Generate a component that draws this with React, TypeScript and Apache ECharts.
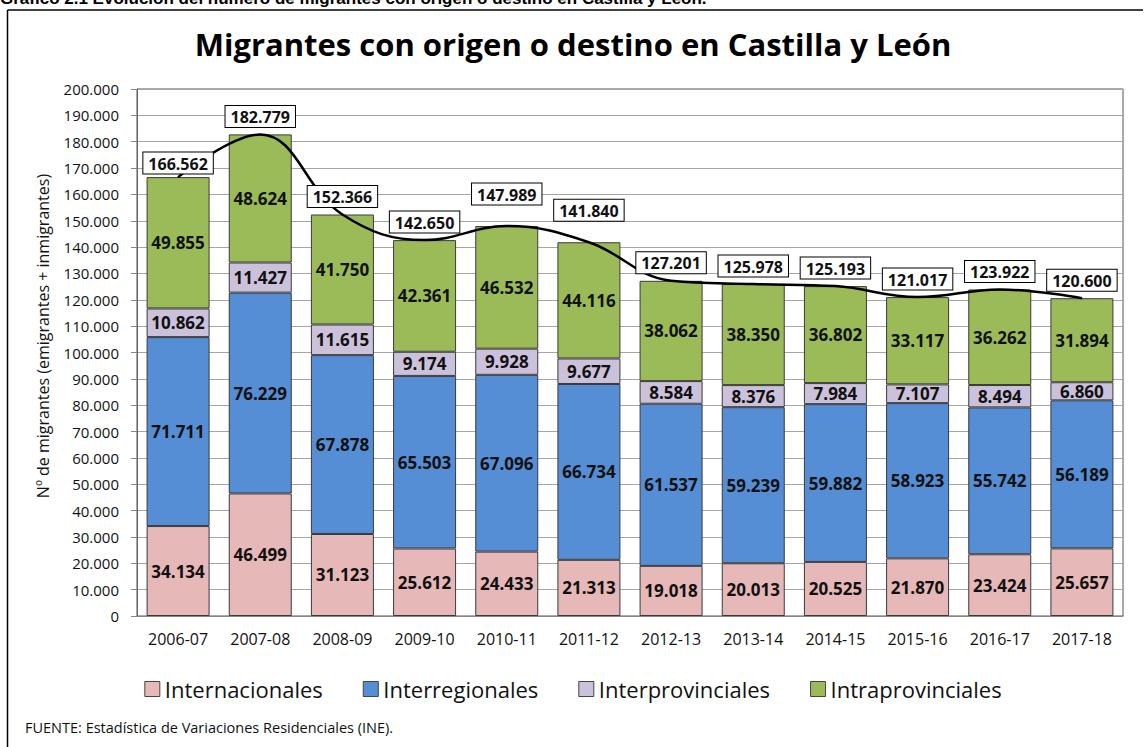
import React, { useEffect, useRef } from "react";
import * as echarts from "echarts";

const categories = ["2006-07","2007-08","2008-09","2009-10","2010-11","2011-12","2012-13","2013-14","2014-15","2015-16","2016-17","2017-18"];
const internacionales = [34134,46499,31123,25612,24433,21313,19018,20013,20525,21870,23424,25657];
const interregionales = [71711,76229,67878,65503,67096,66734,61537,59239,59882,58923,55742,56189];
const interprovinciales = [10862,11427,11615,9174,9928,9677,8584,8376,7984,7107,8494,6860];
const intraprovinciales = [49855,48624,41750,42361,46532,44116,38062,38350,36802,33117,36262,31894];
const totales = [166562,182779,152366,142650,147989,141840,127201,125978,125193,121017,123922,120600];

const seriesNames = ["Internacionales","Interregionales","Interprovinciales","Intraprovinciales"];
const caption = "Gráfico 2.1 Evolución del número de migrantes con origen o destino en Castilla y León.";
const chartTitle = "Migrantes con origen o destino en Castilla y León";
const yAxisTitle = "Nº de migrantes (emigrantes + inmigrantes)";
const source = "FUENTE: Estadística de Variaciones Residenciales (INE).";

const fmt = (v: number) => String(Math.round(v)).replace(/\B(?=(\d{3})+(?!\d))/g, ".");
const FONT = "'Open Sans', sans-serif";

export default function App() {
  const ref = useRef<HTMLDivElement>(null);
  useEffect(() => {
    if (!ref.current) return;
    const chart = echarts.init(ref.current, null, { renderer: "svg" });
    const colors = ["#E6B9B8", "#558ED5", "#CCC1DA", "#9BBB59"];
    const values = [internacionales, interregionales, interprovinciales, intraprovinciales];
    const raisedLabels = new Set(["2010-11", "2011-12"]);
    const lowLabels = new Set(["2006-07"]);
    const barSeries = values.map((arr, i) => ({
      name: seriesNames[i],
      type: "bar",
      stack: "total",
      barWidth: 63,
      data: arr,
      itemStyle: { color: colors[i], borderColor: "#3a3a3a", borderWidth: 1 },
      label: {
        show: true,
        position: "inside",
        formatter: (p: any) => fmt(p.value),
        color: "#111",
        fontWeight: "bold",
        fontSize: 17,
        fontFamily: FONT,
      },
    }));
    chart.setOption({
      animation: false,
      color: colors,
      textStyle: { fontFamily: FONT },
      title: {
        text: chartTitle,
        left: "center",
        top: 23,
        textStyle: { fontSize: 31, fontWeight: "bold", color: "#000", fontFamily: FONT },
      },
      legend: {
        data: seriesNames,
        left: "center",
        top: 673,
        icon: "rect",
        itemWidth: 15,
        itemHeight: 15,
        itemGap: 40,
        itemStyle: { borderColor: "#444", borderWidth: 1 },
        textStyle: { fontSize: 22, color: "#111", fontFamily: FONT },
      },
      grid: { left: 137, right: 23, top: 89, bottom: 131, show: true, borderColor: "#555", borderWidth: 1 },
      xAxis: {
        type: "category",
        data: categories,
        axisTick: { show: false },
        axisLine: { lineStyle: { color: "#888" } },
        axisLabel: { fontSize: 16, color: "#111", margin: 15, fontFamily: FONT },
      },
      yAxis: {
        type: "value",
        min: 0,
        max: 200000,
        interval: 10000,
        axisLine: { show: true, lineStyle: { color: "#666" } },
        axisTick: { show: true, length: 6, lineStyle: { color: "#888" } },
        axisLabel: { formatter: (v: number) => fmt(v), fontSize: 15, color: "#111", margin: 18, fontFamily: FONT },
        splitLine: { lineStyle: { color: "#a6a6a6" } },
      },
      graphic: [
        { type: "text", left: 0, top: -10, style: { text: caption, font: "bold 17px 'Liberation Sans', Arial, sans-serif", fill: "#000" } },
        { type: "line", shape: { x1: 7.5, y1: 10, x2: 7.5, y2: 760 }, style: { stroke: "#000", lineWidth: 1.5 } },
        { type: "line", shape: { x1: 7.5, y1: 10, x2: 1143, y2: 10 }, style: { stroke: "#000", lineWidth: 1.5 } },
        {
          type: "text",
          x: 43,
          y: 336,
          rotation: Math.PI / 2,
          style: { text: yAxisTitle, font: `16px ${FONT}`, fill: "#111", align: "center", verticalAlign: "middle" },
        },
        { type: "text", x: 25, y: 727, style: { text: source, font: `14.5px ${FONT}`, fill: "#111", verticalAlign: "middle" } },
      ],
      series: [
        ...barSeries,
        {
          name: "Total",
          type: "line",
          data: totales.map((v, i) => ({
            value: v,
            label: { distance: raisedLabels.has(categories[i]) ? 21 : lowLabels.has(categories[i]) ? 3 : 7 },
          })),
          smooth: 0.4,
          symbol: "circle",
          symbolSize: 1,
          z: 5,
          lineStyle: { color: "#000", width: 2.5 },
          itemStyle: { color: "#000" },
          label: {
            show: true,
            position: "top",
            formatter: (p: any) => fmt(p.value),
            backgroundColor: "#fff",
            borderColor: "#000",
            borderWidth: 1,
            padding: [3, 5, 2, 5],
            color: "#111",
            fontWeight: "bold",
            fontSize: 16,
            fontFamily: FONT,
          },
        },
      ],
    });
    return () => chart.dispose();
  }, []);
  return <div ref={ref} style={{ position: "fixed", left: 0, top: 0, width: 1146, height: 747, background: "#fff" }} />;
}
